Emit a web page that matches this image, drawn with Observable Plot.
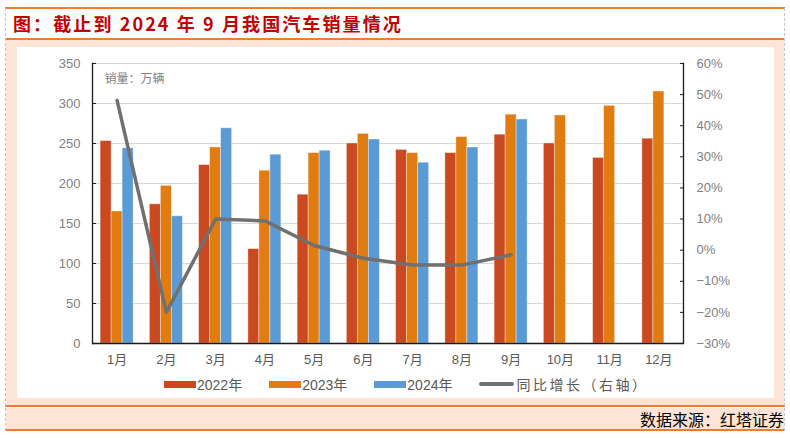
<!DOCTYPE html>
<html><head><meta charset="utf-8">
<script src="https://cdn.jsdelivr.net/npm/d3@7"></script>
<script src="https://cdn.jsdelivr.net/npm/@observablehq/plot@0.6"></script>
<style>
body{margin:0;background:#fff;width:790px;height:438px;position:relative;overflow:hidden;font-family:"Noto Sans CJK SC",sans-serif;}
.vdash{position:absolute;top:8px;height:423px;border-left:1px dashed #c4c4c4;}
.hline{position:absolute;left:5px;width:780px;height:2px;background:#ed7d31;}
#title{position:absolute;left:13px;top:9px;height:29px;line-height:29px;font-size:18px;font-weight:bold;color:#c00000;letter-spacing:2.1px;white-space:nowrap;}
.peach{position:absolute;left:6px;width:778px;background:#fce4d6;}
#white{position:absolute;left:17px;top:47px;width:757px;height:351px;background:#fff;}
#legend{position:absolute;left:147px;top:328px;height:18px;display:flex;align-items:center;font-size:14px;color:#595959;font-family:"Liberation Sans","Noto Sans CJK SC",sans-serif;white-space:nowrap;}
.item{display:flex;align-items:center;margin-right:27px;}
.sw{width:32px;height:7px;margin-right:1px;}
.lsw{width:35px;height:4px;border-radius:2px;margin-right:2px;background:#707070;}
#footer-text{position:absolute;right:6px;top:408px;height:22px;line-height:22px;font-size:16px;color:#000;white-space:nowrap;}
</style></head>
<body>
<div class="peach" style="top:40px;height:366px;"></div>
<div class="peach" style="top:408px;height:22px;"></div>
<div class="hline" style="top:7px;"></div>
<div class="hline" style="top:38px;"></div>
<div class="hline" style="top:405px;"></div>
<div class="hline" style="top:429px;"></div>
<div class="vdash" style="left:5px;"></div>
<div class="vdash" style="left:784px;"></div>
<div id="title">图：截止到 2024 年 9 月我国汽车销量情况</div>
<div id="white"><div id="chart"></div><div id="legend"></div></div>
<div id="footer-text">数据来源：红塔证券</div>
<script>
const months = ["1月","2月","3月","4月","5月","6月","7月","8月","9月","10月","11月","12月"];
const sales2022 = [253,174,223,118,186,250,242,238,261,250,232,256];
const sales2023 = [165,197,245,216,238,262,238,258,286,285,297,315];
const sales2024 = [244,159,269,236,241,255,226,245,280];
const yoyGrowth = [48.1,-20.0,10.0,9.4,1.5,-2.6,-4.8,-4.8,-1.5];
const leftTicks = [0,50,100,150,200,250,300,350];
const rightTicks = [-30,-20,-10,0,10,20,30,40,50,60];
const seriesNames = ["2022年","2023年","2024年"];
const lineName = "同比增长（右轴）";
const unitLabel = "销量：万辆";

const colors = ["#ca4920","#e07c10","#5b9bd5"];
const lineColor = "#707070";
const series = [sales2022, sales2023, sales2024];

const W = 757, H = 325, mL = 75, mR = 91, mT = 16, mB = 29;
const yMax = leftTicks[leftTicks.length-1];
const rMin = rightTicks[0], rMax = rightTicks[rightTicks.length-1];
const toY = p => (p - rMin) / (rMax - rMin) * yMax;
const fromY = v => Math.round(v / yMax * (rMax - rMin) + rMin);
const band = (W - mL - mR) / months.length;
const barW = 11;
const inset = (band - barW) / 2;

const barMarks = series.map((vals, i) =>
  Plot.barY(vals.map((v, j) => ({month: months[j], v})), {
    x: "month", y: "v", fill: colors[i],
    insetLeft: inset, insetRight: inset, dx: (i - 1) * barW,
    stroke: "white", strokeOpacity: 0.45, strokeWidth: 0.8
  })
);

const chart = Plot.plot({
  width: W, height: H,
  marginLeft: mL, marginRight: mR, marginTop: mT, marginBottom: mB,
  style: {fontFamily: "'Liberation Sans','Noto Sans CJK SC',sans-serif", fontSize: "13px", background: "transparent"},
  x: {type: "band", domain: months, padding: 0, round: false, axis: null},
  y: {domain: [0, yMax], axis: null},
  marks: [
    Plot.gridY(leftTicks.slice(1), {stroke: "#d9d9d9", strokeOpacity: 1, strokeWidth: 1.2}),
    ...barMarks,
    Plot.line(yoyGrowth.map((p, j) => ({month: months[j], p})), {
      x: "month", y: d => toY(d.p), stroke: lineColor, strokeWidth: 3.5, strokeLinejoin: "round"
    }),
    Plot.ruleY([0], {stroke: "#1a1a1a", strokeWidth: 1.3}),
    Plot.frame({anchor: "left", stroke: "#1a1a1a", strokeWidth: 1.3}),
    Plot.frame({anchor: "right", stroke: "#1a1a1a", strokeWidth: 1.3}),
    Plot.axisY(leftTicks, {anchor: "left", tickSize: -4, text: null, label: null, stroke: "#1a1a1a"}),
    Plot.axisY(leftTicks, {anchor: "left", tickSize: 0, tickPadding: 12, label: null, color: "#808080", fontSize: 13}),
    Plot.axisY(rightTicks.map(toY), {anchor: "right", tickSize: -4, text: null, label: null, stroke: "#1a1a1a"}),
    Plot.axisY(rightTicks.map(toY), {anchor: "right", tickSize: 0, tickPadding: 13, label: null, color: "#808080", fontSize: 13,
      tickFormat: v => `${fromY(v)}%`.replace("-", "−")}),
    Plot.axisX(months, {anchor: "bottom", tickSize: 0, tickPadding: 11, label: null, color: "#595959", fontSize: 13}),
    Plot.text([unitLabel], {frameAnchor: "top-left", dx: 12, dy: 16, textAnchor: "start", lineAnchor: "middle",
      fill: "#7f7f7f", fontSize: 12, fontFamily: "'Noto Sans CJK SC',sans-serif"})
  ]
});
document.getElementById("chart").appendChild(chart);

const legend = document.getElementById("legend");
seriesNames.forEach((name, i) => {
  const it = document.createElement("div"); it.className = "item";
  it.innerHTML = `<div class="sw" style="background:${colors[i]}"></div><span>${name}</span>`;
  legend.appendChild(it);
});
const li = document.createElement("div"); li.className = "item";
li.innerHTML = `<div class="lsw"></div><span style="font-family:'Noto Sans CJK SC',sans-serif;letter-spacing:2.5px;">${lineName}</span>`;
legend.appendChild(li);
</script>
</body></html>
